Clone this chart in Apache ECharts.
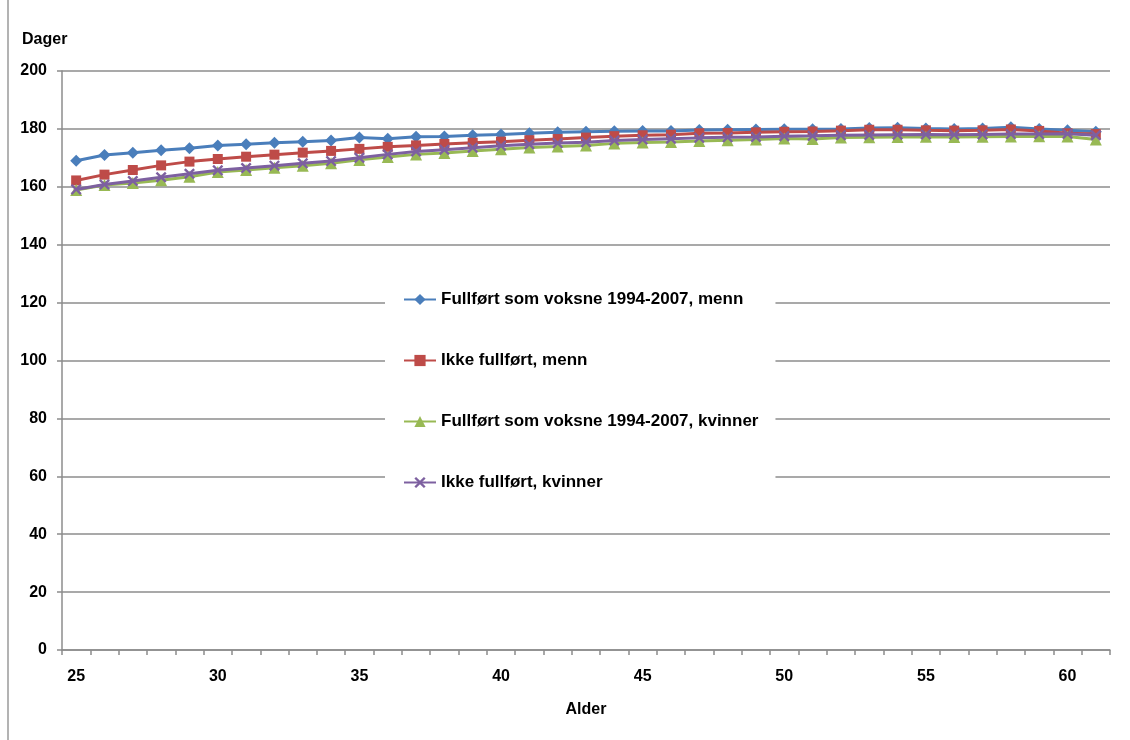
<!DOCTYPE html>
<html><head><meta charset="utf-8">
<script src="https://cdn.jsdelivr.net/npm/echarts@6/dist/echarts.min.js"></script>
<style>html,body{margin:0;padding:0;background:#fff}#c{width:1130px;height:740px}</style>
</head><body><div id="c"></div>
<script>
const ages = [25,26,27,28,29,30,31,32,33,34,35,36,37,38,39,40,41,42,43,44,45,46,47,48,49,50,51,52,53,54,55,56,57,58,59,60,61];
const fullfortMenn = [169.0,171.0,171.8,172.6,173.3,174.3,174.7,175.2,175.6,176.0,177.0,176.6,177.3,177.4,177.8,178.1,178.5,178.8,179.0,179.2,179.3,179.3,179.6,179.7,179.8,179.9,179.9,180.0,180.3,180.4,180.1,180.0,180.1,180.6,180.0,179.5,179.0];
const ikkeMenn = [162.2,164.2,165.8,167.4,168.7,169.6,170.4,171.1,171.8,172.4,173.1,173.8,174.3,174.8,175.2,175.6,176.1,176.5,177.0,177.5,177.8,178.0,178.5,178.6,178.8,179.0,179.1,179.4,179.7,179.7,179.5,179.4,179.5,179.8,179.3,178.5,178.2];
const fullfortKvinner = [158.9,160.6,161.3,162.3,163.5,165.1,165.8,166.6,167.3,168.1,169.3,170.3,171.2,171.7,172.4,173.0,173.6,173.9,174.3,175.0,175.3,175.5,175.8,176.1,176.3,176.7,176.5,177.0,177.1,177.2,177.3,177.2,177.3,177.4,177.5,177.4,176.3];
const ikkeKvinner = [159.1,160.8,162.0,163.3,164.5,165.7,166.5,167.3,168.1,168.9,170.0,171.2,172.2,172.8,173.5,174.2,174.7,175.1,175.4,176.0,176.3,176.6,176.9,177.1,177.2,177.5,177.6,177.8,177.9,178.0,178.1,178.0,178.1,178.2,178.2,178.3,177.8];
const seriesNames = ['Fullført som voksne 1994-2007, menn','Ikke fullført, menn','Fullført som voksne 1994-2007, kvinner','Ikke fullført, kvinner'];
const colors = ['#4A7EBB','#BE4B48','#98B954','#7D60A0'];
const yTitle = 'Dager';
const xTitle = 'Alder';

const xSymbol = 'path://M0,1.5 L1.5,0 L5,3.5 L8.5,0 L10,1.5 L6.5,5 L10,8.5 L8.5,10 L5,6.5 L1.5,10 L0,8.5 L3.5,5 Z';
const symbols = ['diamond','rect','triangle',xSymbol];
const sizes = [12,10,12,11];
const datas = [fullfortMenn, ikkeMenn, fullfortKvinner, ikkeKvinner];

const font = 'Liberation Sans, Arial, sans-serif';
const chart = echarts.init(document.getElementById('c'), null, {renderer:'canvas'});
chart.setOption({
  animation:false,
  backgroundColor:'#fff',
  color: colors,
  graphic:[
    {type:'line', shape:{x1:8,y1:0,x2:8,y2:740}, style:{stroke:'#9a9a9a', lineWidth:1.5}},
    {type:'text', left:22, top:32, style:{text:yTitle, font:'bold 16px '+font, fill:'#000'}}
  ],
  grid:{left:62, right:20, top:71, bottom:90},
  legend:{
    orient:'vertical', left:385, top:281,
    padding:[10,17,10,18], backgroundColor:'#fff',
    itemWidth:32, itemHeight:14, itemGap:44,
    textStyle:{fontFamily:font, fontWeight:'bold', fontSize:17, color:'#000'},
    data: seriesNames
  },
  xAxis:{
    type:'category', data: ages, boundaryGap:true,
    name:xTitle, nameLocation:'middle', nameGap:52,
    nameTextStyle:{fontFamily:font, fontWeight:'bold', fontSize:16, color:'#000'},
    axisLine:{lineStyle:{color:'#8c8c8c', width:1.5}},
    axisTick:{show:true, interval:0, length:5, lineStyle:{color:'#8c8c8c', width:1.5}},
    axisLabel:{interval:4, margin:19, fontFamily:font, fontWeight:'bold', fontSize:16, color:'#000'}
  },
  yAxis:{
    type:'value', min:0, max:200, interval:20,
    axisLine:{show:true, lineStyle:{color:'#8c8c8c', width:1.5}},
    axisTick:{show:true, length:5, inside:false, lineStyle:{color:'#8c8c8c', width:1.5}},
    axisLabel:{margin:15, fontFamily:font, fontWeight:'bold', fontSize:16, color:'#000'},
    splitLine:{show:true, lineStyle:{color:'#8c8c8c', width:1.5}}
  },
  series: seriesNames.map((n,i)=>({
    name:n, type:'line', data:datas[i],
    symbol:symbols[i], symbolSize:sizes[i], showSymbol:true,
    lineStyle:{width:3, color:colors[i]},
    itemStyle:{color:colors[i]},
    z: 10+i
  }))
});
</script></body></html>
